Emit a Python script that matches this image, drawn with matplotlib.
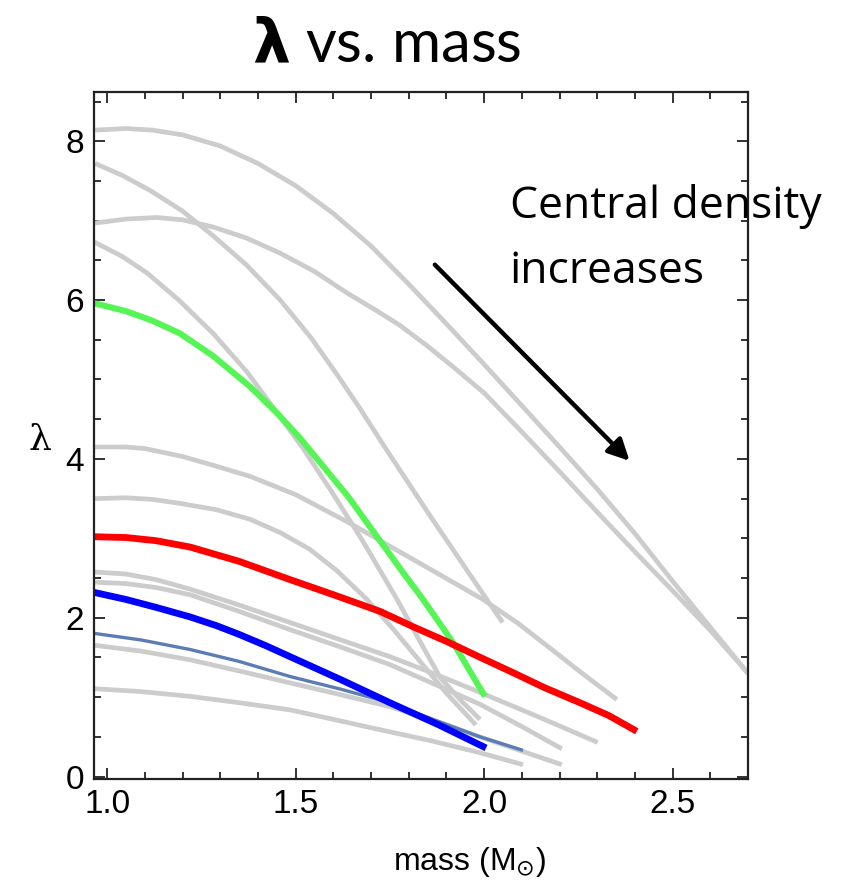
import numpy as np
import matplotlib.pyplot as plt
from matplotlib.ticker import MultipleLocator

# lambda vs. mass tracks, one per equation of state
g1_m = [0.968, 1.05, 1.12, 1.2, 1.3, 1.4, 1.5, 1.6, 1.7, 1.8, 1.9, 2.0, 2.1, 2.2, 2.3, 2.4, 2.5, 2.6, 2.7]
g1_l = [8.14, 8.16, 8.14, 8.08, 7.94, 7.72, 7.44, 7.09, 6.68, 6.20, 5.70, 5.19, 4.67, 4.15, 3.62, 3.06, 2.46, 1.88, 1.30]
g2_m = [0.968, 1.05, 1.133, 1.2, 1.281, 1.37, 1.459, 1.55, 1.636, 1.71, 1.777, 1.85, 1.92, 2.0, 2.1, 2.2,
        2.3, 2.4, 2.5, 2.6, 2.7]
g2_l = [6.97, 7.02, 7.04, 7.01, 6.92, 6.78, 6.59, 6.36, 6.09, 5.88, 5.68, 5.42, 5.15, 4.83, 4.34, 3.84,
        3.33, 2.83, 2.34, 1.84, 1.30]
g3_m = [0.968, 1.04, 1.114, 1.2, 1.281, 1.37, 1.459, 1.54, 1.61, 1.67, 1.732, 1.8, 1.864, 1.91, 1.954, 2.0, 2.049]
g3_l = [7.72, 7.57, 7.38, 7.12, 6.81, 6.44, 6.00, 5.53, 5.06, 4.64, 4.18, 3.69, 3.23, 2.91, 2.60, 2.28, 1.94]
g4_m = [0.966, 1.04, 1.106, 1.19, 1.281, 1.37, 1.451, 1.52, 1.591, 1.68, 1.769, 1.83, 1.883, 1.94, 1.989]
g4_l = [6.73, 6.55, 6.34, 6.00, 5.58, 5.10, 4.58, 4.13, 3.62, 2.95, 2.23, 1.70, 1.25, 0.95, 0.72]
g5_m = [0.966, 1.05, 1.1, 1.2, 1.281, 1.379, 1.5, 1.644, 1.75, 1.85, 1.997, 2.09, 2.174, 2.26, 2.352]
g5_l = [4.15, 4.15, 4.13, 4.03, 3.92, 3.78, 3.55, 3.19, 2.90, 2.63, 2.23, 1.93, 1.62, 1.30, 0.97]
g6_m = [0.966, 1.05, 1.12, 1.193, 1.29, 1.379, 1.46, 1.538, 1.61, 1.689, 1.76, 1.83, 1.9, 1.978]
g6_l = [3.50, 3.51, 3.49, 3.44, 3.36, 3.24, 3.07, 2.86, 2.59, 2.23, 1.85, 1.45, 1.05, 0.65]
g7_m = [0.955, 1.05, 1.13, 1.22, 1.35, 1.485, 1.62, 1.75, 1.87, 1.989, 2.15, 2.301]
g7_l = [2.58, 2.55, 2.48, 2.36, 2.16, 1.94, 1.72, 1.51, 1.29, 1.06, 0.74, 0.43]
g8_m = [0.955, 1.05, 1.13, 1.22, 1.35, 1.485, 1.62, 1.75, 1.87, 1.989, 2.1, 2.206]
g8_l = [2.45, 2.43, 2.38, 2.29, 2.08, 1.85, 1.63, 1.41, 1.16, 0.91, 0.63, 0.35]
g9_m = [0.955, 1.09, 1.22, 1.35, 1.485, 1.62, 1.75, 1.87, 1.989, 2.1, 2.206]
g9_l = [1.66, 1.58, 1.47, 1.33, 1.18, 1.03, 0.88, 0.70, 0.50, 0.32, 0.15]
g10_m = [0.955, 1.09, 1.22, 1.35, 1.485, 1.6, 1.724, 1.86, 1.989, 2.103]
g10_l = [1.11, 1.07, 1.01, 0.93, 0.84, 0.72, 0.59, 0.45, 0.30, 0.15]

green_m = [0.966, 1.05, 1.12, 1.193, 1.28, 1.379, 1.45, 1.512, 1.557, 1.64, 1.716, 1.78, 1.838, 1.917, 2.002]
green_l = [5.96, 5.86, 5.74, 5.58, 5.30, 4.91, 4.58, 4.26, 4.00, 3.52, 3.02, 2.60, 2.23, 1.69, 1.01]
red_m = [0.966, 1.05, 1.13, 1.22, 1.35, 1.485, 1.6, 1.724, 1.81, 1.901, 1.99, 2.076, 2.16, 2.254, 2.33, 2.405]
red_l = [3.02, 3.01, 2.97, 2.89, 2.71, 2.48, 2.29, 2.08, 1.89, 1.70, 1.50, 1.31, 1.12, 0.93, 0.77, 0.57]
blue_m = [0.955, 1.05, 1.13, 1.22, 1.29, 1.35, 1.42, 1.485, 1.62, 1.75, 1.88, 2.005]
blue_l = [2.33, 2.23, 2.13, 2.01, 1.90, 1.79, 1.65, 1.51, 1.22, 0.93, 0.65, 0.36]
steel_m = [0.955, 1.09, 1.22, 1.35, 1.485, 1.62, 1.75, 1.87, 1.989, 2.103]
steel_l = [1.81, 1.72, 1.60, 1.45, 1.26, 1.10, 0.93, 0.71, 0.50, 0.33]

gray_tracks = [(g1_m, g1_l), (g2_m, g2_l), (g3_m, g3_l), (g4_m, g4_l), (g5_m, g5_l),
               (g6_m, g6_l), (g7_m, g7_l), (g8_m, g8_l), (g9_m, g9_l), (g10_m, g10_l)]

fig = plt.figure(figsize=(8.6, 8.88), dpi=100)
ax = fig.add_axes([0.1093, 0.1228, 0.7605, 0.7736])

line_kw = dict(solid_capstyle='butt', solid_joinstyle='round')
for m, l in gray_tracks:
    ax.plot(m, l, color='#cccccc', lw=3.4, **line_kw)
ax.plot(steel_m, steel_l, color='#5a7db3', lw=2.4, **line_kw)
ax.plot(green_m, green_l, color='#55f555', lw=4.4, **line_kw)
ax.plot(red_m, red_l, color='#ff0000', lw=4.9, **line_kw)
ax.plot(blue_m, blue_l, color='#0000ff', lw=4.9, **line_kw)

ax.set_xlim(0.965, 2.70)
ax.set_ylim(-0.03, 8.62)
ax.xaxis.set_major_locator(MultipleLocator(0.5))
ax.xaxis.set_minor_locator(MultipleLocator(0.1))
ax.yaxis.set_major_locator(MultipleLocator(2))
ax.yaxis.set_minor_locator(MultipleLocator(0.5))
ax.xaxis.set_major_formatter(plt.FormatStrFormatter('%.1f'))
ax.tick_params(which='both', direction='in', top=True, right=True, width=1.3,
               labelsize=24, colors='#222222', labelcolor='black')
ax.tick_params(which='major', length=8, pad=7)
ax.tick_params(which='minor', length=5)
for lab in ax.get_xticklabels() + ax.get_yticklabels():
    lab.set_family('Liberation Sans')
for s in ax.spines.values():
    s.set_linewidth(1.6)
    s.set_color('#222222')

ax.set_xlabel(r'mass (M$_{\odot}$)', family='Liberation Sans', fontsize=23, va='center')
ax.xaxis.set_label_coords(0.575, -0.121)
ax.set_ylabel('λ', family='DejaVu Serif', fontsize=26, rotation=0, ha='center', va='center')
ax.yaxis.set_label_coords(-0.083, 0.493)

ax.annotate('', xy=(2.391, 3.95), xytext=(1.864, 6.47),
            arrowprops=dict(arrowstyle='-|>', lw=3.2, color='black', mutation_scale=32))

fig.text(0.45, 0.949, r'$\mathbf{\lambda}$ vs. mass', family='Lato', fontsize=43,
         ha='center', va='center')
fig.text(0.593, 0.7545, 'Central density', family='Open Sans', fontsize=32,
         ha='left', va='baseline')
fig.text(0.593, 0.6813, 'increases', family='Open Sans', fontsize=32,
         ha='left', va='baseline')

fig.savefig('out.png', dpi=100)
